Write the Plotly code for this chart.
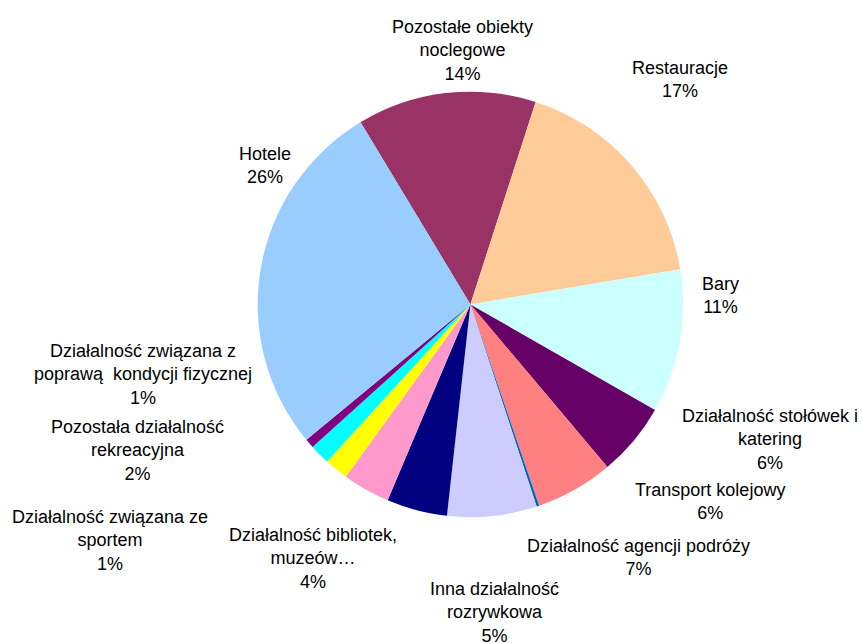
import plotly.graph_objects as go

# slices, clockwise from the top-left edge of "Pozostałe obiekty noclegowe"
categories = [
    "Pozostałe obiekty noclegowe",
    "Restauracje",
    "Bary",
    "Działalność stołówek i katering",
    "Transport kolejowy",
    "Pozostały transport",
    "Działalność agencji podróży",
    "Inna działalność rozrywkowa",
    "Działalność bibliotek, muzeów…",
    "Działalność związana ze sportem",
    "Pozostała działalność rekreacyjna",
    "Działalność związana z poprawą kondycji fizycznej",
    "Hotele",
]
shares = [13.6, 17.4, 10.9, 5.6, 5.9, 0.2, 6.8, 4.6, 3.6, 1.8, 1.55, 0.7, 27.35]
pct_labels = ["14%", "17%", "11%", "6%", "6%", None, "7%", "5%", "4%", "1%", "2%", "1%", "26%"]
label_lines = [
    "Pozostałe obiekty<br>noclegowe",
    "Restauracje",
    "Bary",
    "Działalność stołówek i<br>katering",
    "Transport kolejowy",
    None,
    "Działalność agencji podróży",
    "Inna działalność<br>rozrywkowa",
    "Działalność bibliotek,<br>muzeów…",
    "Działalność związana ze<br>sportem",
    "Pozostała działalność<br>rekreacyjna",
    "Działalność związana z<br>poprawą  kondycji fizycznej",
    "Hotele",
]

colors = ["#993366", "#FFCC99", "#CCFFFF", "#660066", "#FF8080", "#0066CC", "#CCCCFF",
          "#000080", "#FF99CC", "#FFFF00", "#00FFFF", "#800080", "#99CCFF"]

W, H = 862, 643
# label block centres in pixels
label_pos = [(462, 50), (680, 79), (720, 295), (770, 440), (710, 502), None, (638, 557),
             (494, 612), (313, 558), (110, 540), (137, 450), (143, 374), (265, 165)]

cx, cy, r = 470.4, 304.4, 212.7

fig = go.Figure(go.Pie(
    labels=categories,
    values=shares,
    sort=False,
    direction="clockwise",
    rotation=-31.1,
    marker=dict(colors=colors, line=dict(width=0)),
    textinfo="none",
    hoverinfo="label+percent",
    domain=dict(x=[(cx - r) / W, (cx + r) / W], y=[1 - (cy + r) / H, 1 - (cy - r) / H]),
))

for text, pct, pos in zip(label_lines, pct_labels, label_pos):
    if pos is None:
        continue
    fig.add_annotation(
        x=pos[0] / W, y=1 - pos[1] / H, xref="paper", yref="paper",
        text=f"{text}<br>{pct}", showarrow=False,
        xanchor="center", yanchor="middle", align="center",
    )

fig.update_layout(
    width=W,
    height=H,
    showlegend=False,
    paper_bgcolor="white",
    margin=dict(t=0, b=0, l=0, r=0),
    font=dict(family="Liberation Sans, Arial, sans-serif", size=18, color="#000000"),
)

# drop the default page margin so the figure fills the window
fig.write_html(
    "out.html",
    config={"displayModeBar": False},
    post_script="document.body.style.margin = '0';",
)
